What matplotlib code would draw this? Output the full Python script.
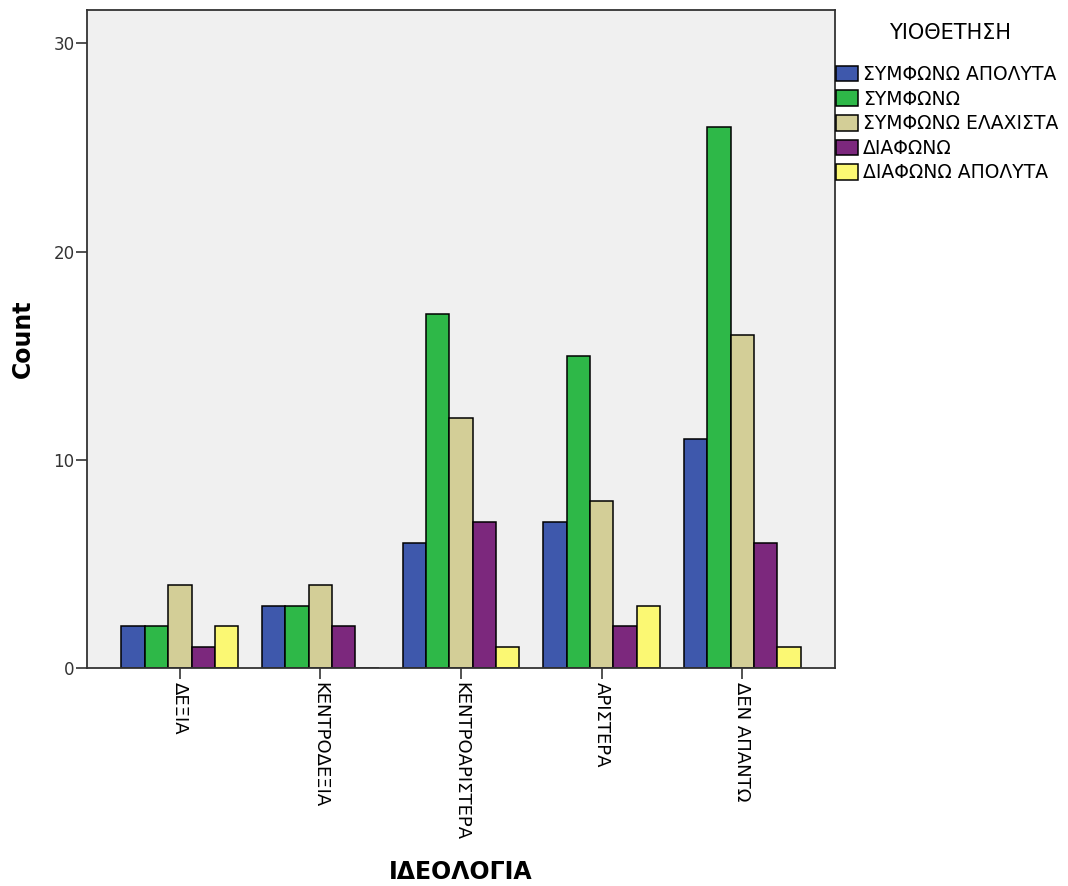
import matplotlib.pyplot as plt
import numpy as np

plt.rcParams['font.family'] = ['DejaVu Sans']

categories = ['ΔΕΞΙΑ', 'ΚΕΝΤΡΟΔΕΞΙΑ', 'ΚΕΝΤΡΟΑΡΙΣΤΕΡΑ', 'ΑΡΙΣΤΕΡΑ', 'ΔΕΝ ΑΠΑΝΤΩ']
series_names = ['ΣΥΜΦΩΝΩ ΑΠΟΛΥΤΑ', 'ΣΥΜΦΩΝΩ', 'ΣΥΜΦΩΝΩ ΕΛΑΧΙΣΤΑ', 'ΔΙΑΦΩΝΩ', 'ΔΙΑΦΩΝΩ ΑΠΟΛΥΤΑ']
symfono_apolyta = [2, 3, 6, 7, 11]
symfono = [2, 3, 17, 15, 26]
symfono_elaxista = [4, 4, 12, 8, 16]
diafono = [1, 2, 7, 2, 6]
diafono_apolyta = [2, 0, 1, 3, 1]
series = [symfono_apolyta, symfono, symfono_elaxista, diafono, diafono_apolyta]
colors = ['#3e58ac', '#2eb848', '#d3ce97', '#7c287d', '#fbf873']

fig = plt.figure(figsize=(10.68, 8.86), dpi=100)
ax = fig.add_axes([0.0815, 0.246, 0.7005, 0.7427])
ax.set_facecolor('#f0f0f0')

x = np.arange(len(categories))
w = 0.166
for i, (vals, name, c) in enumerate(zip(series, series_names, colors)):
    ax.bar(x + (i - 2) * w, vals, width=w, color=c, edgecolor='black',
           linewidth=1.1, label=name)

ax.set_xlim(-0.66, 4.66)
ax.set_ylim(0, 31.6)
ax.set_yticks([0, 10, 20, 30])
ax.set_xticks(x)
ax.set_xticklabels(categories, rotation=270, va='top', ha='center', fontsize=13)
ax.tick_params(axis='y', labelsize=12, length=8, width=1.2, pad=1,
               color='#333333', labelcolor='#333333')
ax.tick_params(axis='x', length=8, width=1.2, pad=2, color='#333333')
for s in ax.spines.values():
    s.set_color('#333333')
    s.set_linewidth(1.3)

fig.text(23 / 1068, 1 - 339 / 886, 'Count', fontsize=17, fontweight='bold',
         rotation=90, ha='center', va='center')
fig.text(461 / 1068, 1 - 872 / 886, 'ΙΔΕΟΛΟΓΙΑ', fontsize=17, fontweight='bold',
         ha='center', va='center')

fig.text(950 / 1068, 1 - 33 / 886, 'ΥΙΟΘΕΤΗΣΗ', fontsize=15, ha='center', va='center')
leg = ax.legend(loc='upper left', bbox_to_anchor=(836 / 1068, 1 - 65 / 886),
                bbox_transform=fig.transFigure, frameon=False,
                fontsize=13.5, handlelength=1.15, handleheight=0.9, handletextpad=0.3,
                labelspacing=0.3, borderaxespad=0, borderpad=0)
for h in leg.legend_handles:
    h.set_edgecolor('black')

fig.savefig('out.png', dpi=100)
